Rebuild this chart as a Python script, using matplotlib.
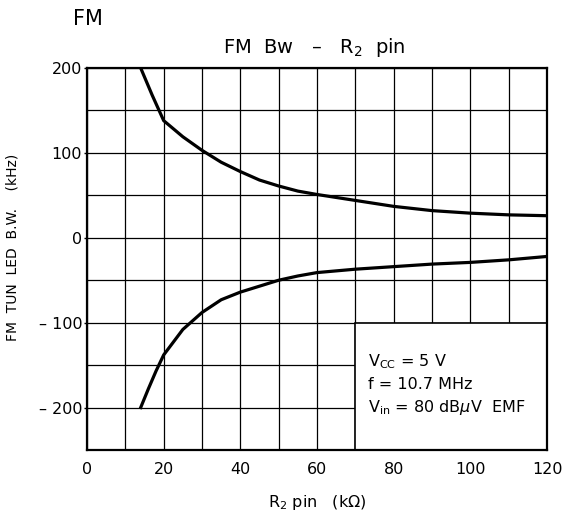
import matplotlib
matplotlib.use("Agg")
import matplotlib.pyplot as plt
from matplotlib.patches import Rectangle

# curve readings (R2 pin in kOhm, bandwidth in kHz)
r_upper = [14, 17, 20, 25, 30, 35, 40, 45, 50, 55, 60, 70, 80, 90, 100, 110, 120]
bw_upper = [200, 168, 138, 119, 103, 89, 78, 68, 61, 55, 51, 44, 37, 32, 29, 27, 26]
r_lower = [14, 16, 18, 20, 25, 30, 35, 40, 45, 50, 55, 60, 70, 80, 90, 100, 110, 120]
bw_lower = [-200, -178, -157, -138, -108, -88, -73, -64, -57, -50, -45, -41, -37, -34, -31, -29, -26, -22]

x_ticks = [0, 20, 40, 60, 80, 100, 120]
y_ticks = [-200, -100, 0, 100, 200]
y_labels = ["\u2013 200", "\u2013 100", "0", "100", "200"]
notes = [r"V$_{\rm CC}$ = 5 V", "f = 10.7 MHz", r"V$_{\rm in}$ = 80 dB$\mu$V  EMF"]

plt.rcParams['font.family'] = ['DejaVu Sans']
plt.rcParams['mathtext.fontset'] = 'dejavusans'

fig = plt.figure(figsize=(5.64, 5.18), dpi=100)
ax = fig.add_axes([0.1543, 0.1313, 0.8156, 0.7374])

ax.set_xlim(0, 120)
ax.set_ylim(-250, 200)
ax.set_xticks(x_ticks)
ax.set_xticks(range(10, 120, 20), minor=True)
ax.set_yticks(y_ticks)
ax.set_yticklabels(y_labels)
ax.set_yticks([-250, -150, -50, 50, 150], minor=True)
ax.tick_params(axis='x', which='both', length=0, pad=9, labelsize=11.5)
ax.tick_params(axis='y', which='major', length=2.5, width=1.0, pad=1, labelsize=11.5)
ax.tick_params(axis='y', which='minor', length=0)
ax.grid(True, which='both', color='black', linewidth=0.9)
for s in ax.spines.values():
    s.set_linewidth(1.6)

# condition box hides the grid in the lower right corner
ax.add_patch(Rectangle((70, -250), 50, 150, facecolor='white', edgecolor='black',
                       linewidth=1.2, zorder=2))
for i, t in enumerate(notes):
    ax.text(73.3, -146 - 27 * i, t, fontsize=11.5, va='center', ha='left', zorder=3)

ax.plot(r_upper, bw_upper, color='black', linewidth=2.3, zorder=4)
ax.plot(r_lower, bw_lower, color='black', linewidth=2.3, zorder=4)

ax.set_xlabel(r"R$_2$ pin   (k$\Omega$)", fontsize=11.5, labelpad=11)
ax.set_ylabel("FM  TUN  LED  B.W.    (kHz)", fontsize=10)
ax.yaxis.set_label_coords(-0.147, 0.53)
fig.text(0.557, 0.909, "FM  Bw   \u2013   R$_2$  pin", fontsize=14,
         ha='center', va='center')
fig.text(0.129, 0.963, "FM", fontsize=15, ha='left', va='center')

fig.savefig("out.png", dpi=100)
